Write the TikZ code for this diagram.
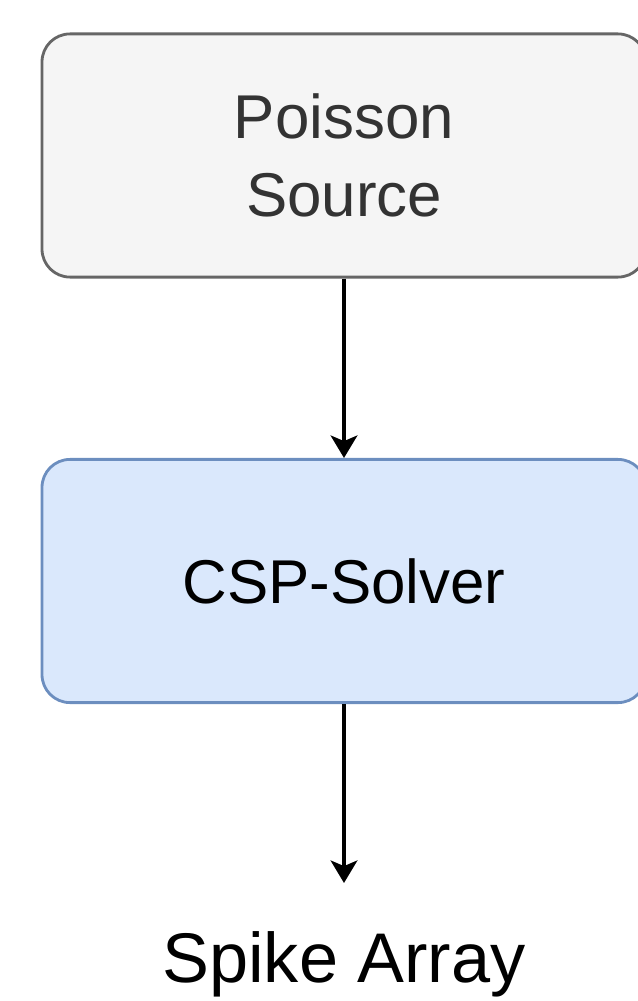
\documentclass[tikz,border=0pt]{standalone}
\usepackage{fontspec}
\setmainfont{Liberation Sans}
\usepackage{tikz}
\usetikzlibrary{arrows.meta}
\usetikzlibrary{positioning, calc}
\usepackage{xcolor}

\definecolor{srcfill}{HTML}{F5F5F5}
\definecolor{srcline}{HTML}{666666}
\definecolor{srctext}{HTML}{333333}
\definecolor{solverfill}{HTML}{DAE8FC}
\definecolor{solverline}{HTML}{6C8EBF}

\begin{document}
\begin{tikzpicture}[>={Stealth[length=16pt, width=19pt, inset=4pt]},
    block/.style={rounded corners=0.7cm, line width=2pt, minimum width=15.1cm, minimum height=6.08cm, align=center, font=\fontsize{44}{56}\selectfont},
    flow/.style={->, line width=2.6pt}]
    \useasboundingbox (0, 0) rectangle (15.925, -25.025);

    \node[block, draw=srcline, fill=srcfill, text=srctext] (source) at (8.6, -3.8875) {Poisson\\Source};
    \node[block, draw=solverline, fill=solverfill, text=black] (solver) at (8.6, -14.525) {CSP-Solver};
    \node[anchor=base, inner sep=0pt, font=\fontsize{50}{60}\selectfont] (spikes) at (8.6, -24.55) {Spike Array};

    \draw[flow] (source) -- (solver);
    \draw[flow, shorten >=34pt] (solver) -- (spikes);
  \end{tikzpicture}
\end{document}
